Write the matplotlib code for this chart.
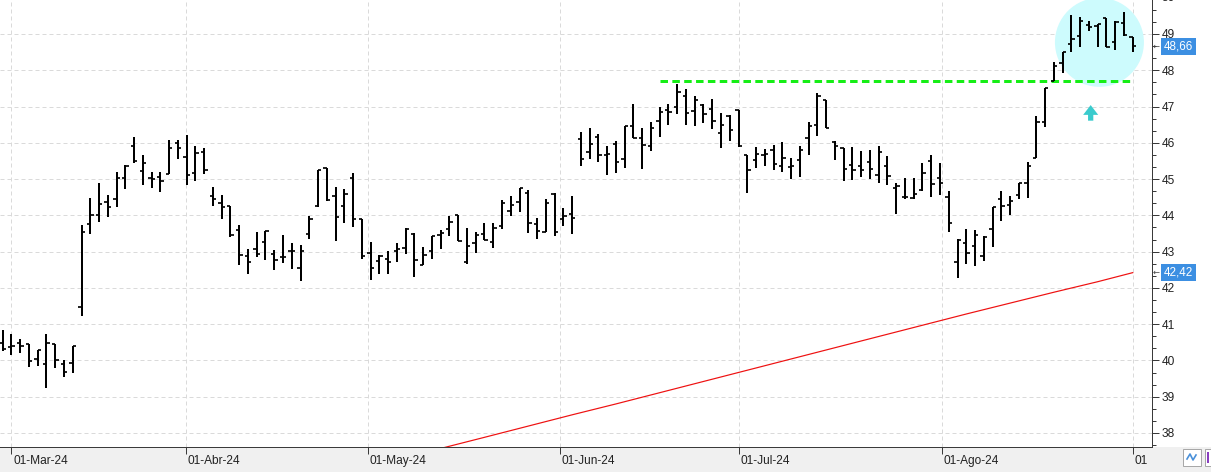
import matplotlib
matplotlib.use('Agg')
import matplotlib.pyplot as plt
import numpy as np
from matplotlib.patches import Ellipse, Rectangle, FancyArrow
from matplotlib.ticker import MultipleLocator, FixedLocator, FuncFormatter, NullFormatter

plt.rcParams['font.family'] = ['Liberation Sans', 'DejaVu Sans']

# ---------------- data (daily OHLC bars, 29-Feb-24 .. 02-Sep-24) ----------------
opens = [40.47, 40.36, 40.49, 40.44, 40.05, 39.90, 40.44, 39.89, 39.92, 41.46,
         43.75, 44.00, 44.36, 44.44, 45.04, 45.91, 45.21, 45.04, 45.06, 45.13,
         46.00, 45.62, 45.18, 45.76, 44.52, 44.35, 44.25, 43.59, 42.87, 43.07,
         43.26, 42.93, 42.85, 43.02, 42.56, 43.48, 44.25, 45.30, 44.53, 44.25,
         45.03, 43.90, 42.96, 42.75, 42.81, 43.02, 43.09, 43.48, 42.63, 43.02,
         43.47, 43.63, 44.00, 42.70, 43.23, 43.48, 43.27, 43.71, 44.12, 44.37,
         44.62, 43.76, 43.54, 44.59, 43.90, 44.04, 46.11, 45.76, 46.15, 45.67,
         45.98, 45.56, 46.47, 46.14, 45.90, 46.61, 46.91, 47.00, 47.29, 46.89,
         47.04, 46.93, 46.28, 46.75, 46.91, 45.65, 45.53, 45.65, 45.81, 45.37,
         45.32, 45.53, 46.14, 46.50, 47.19, 46.01, 45.86, 45.38, 45.36, 45.46,
         45.11, 45.36, 44.76, 44.50, 44.49, 44.70, 45.51, 45.02, 44.50, 42.70,
         43.23, 43.16, 42.89, 43.61, 44.44, 44.28, 44.55, 44.90, 45.57, 46.58,
         47.71, 48.21, 48.72, 48.95, 49.24, 49.23, 49.43, 48.77, 49.29, 48.91]
highs = [40.85, 40.72, 40.60, 40.44, 40.30, 40.72, 40.44, 40.01, 40.41, 43.73,
         44.49, 44.88, 44.56, 45.19, 45.40, 46.15, 45.65, 45.19, 45.19, 46.07,
         46.09, 46.21, 45.91, 45.87, 44.77, 44.56, 44.25, 43.73, 43.07, 43.55,
         43.58, 43.05, 43.46, 43.24, 43.17, 43.99, 45.26, 45.30, 44.78, 44.72,
         45.17, 43.90, 43.27, 42.90, 43.02, 43.24, 43.65, 43.51, 43.13, 43.44,
         43.60, 43.97, 44.01, 43.64, 43.53, 43.80, 43.78, 44.42, 44.54, 44.74,
         44.71, 43.92, 44.46, 44.61, 44.21, 44.52, 46.31, 46.42, 46.23, 45.90,
         46.06, 46.47, 47.08, 46.40, 46.57, 47.00, 47.07, 47.63, 47.49, 47.30,
         47.06, 47.21, 46.83, 46.78, 46.91, 45.67, 45.88, 45.83, 45.93, 46.03,
         45.58, 45.92, 46.57, 47.38, 47.19, 46.04, 45.86, 45.89, 45.77, 45.80,
         45.91, 45.64, 44.90, 45.02, 45.04, 45.43, 45.65, 45.43, 44.67, 43.35,
         43.61, 43.60, 43.43, 44.22, 44.66, 44.53, 44.90, 45.46, 46.74, 47.50,
         48.24, 48.51, 49.51, 49.48, 49.37, 49.27, 49.43, 49.37, 49.60, 48.93]
lows = [40.26, 40.15, 40.21, 39.82, 39.85, 39.24, 39.80, 39.55, 39.66, 41.22,
        43.49, 43.82, 43.96, 44.24, 44.73, 45.43, 44.84, 44.76, 44.65, 45.13,
        45.56, 44.85, 44.95, 45.13, 44.26, 43.89, 43.40, 42.62, 42.38, 42.84,
        42.76, 42.49, 42.68, 42.53, 42.19, 43.35, 44.22, 44.40, 43.29, 43.79,
        43.67, 42.80, 42.23, 42.37, 42.37, 42.72, 42.93, 42.30, 42.63, 42.79,
        43.07, 43.44, 43.30, 42.65, 42.97, 43.32, 43.11, 43.62, 43.98, 44.09,
        43.51, 43.35, 43.54, 43.42, 43.71, 43.49, 45.35, 45.55, 45.46, 45.11,
        45.17, 45.30, 46.13, 45.27, 45.77, 46.15, 46.49, 46.80, 46.49, 46.46,
        46.54, 46.38, 45.85, 46.06, 45.88, 44.61, 45.30, 45.35, 45.25, 45.19,
        44.99, 45.05, 45.67, 46.18, 46.41, 45.53, 44.95, 44.98, 45.06, 45.00,
        44.90, 44.83, 44.05, 44.46, 44.45, 44.67, 44.51, 44.56, 43.55, 42.28,
        42.66, 42.60, 42.74, 43.14, 43.85, 44.01, 44.45, 44.49, 45.57, 46.44,
        47.71, 47.93, 48.51, 48.65, 49.09, 48.65, 48.65, 48.56, 48.95, 48.49]
closes = [40.32, 40.41, 40.41, 39.98, 40.28, 40.47, 40.01, 39.69, 40.39, 43.53,
          44.00, 44.30, 44.22, 45.04, 45.36, 45.49, 45.43, 44.99, 44.96, 45.87,
          45.87, 45.10, 45.71, 45.24, 44.44, 44.24, 43.45, 42.90, 42.71, 42.94,
          43.58, 42.78, 42.85, 43.02, 43.02, 43.90, 45.26, 44.41, 43.95, 44.60,
          43.91, 42.87, 42.54, 42.87, 42.71, 43.07, 43.62, 42.78, 42.90, 43.44,
          43.51, 43.83, 43.30, 43.15, 43.46, 43.32, 43.64, 44.33, 44.29, 44.74,
          43.79, 43.58, 44.34, 43.54, 43.99, 43.94, 45.56, 45.98, 45.67, 45.69,
          45.46, 46.47, 46.14, 45.95, 46.41, 46.86, 46.85, 47.40, 46.83, 47.18,
          46.80, 46.61, 46.48, 46.36, 45.90, 45.24, 45.68, 45.68, 45.41, 45.58,
          45.35, 45.79, 46.46, 47.28, 46.41, 45.91, 45.28, 45.25, 45.25, 45.28,
          45.75, 45.09, 44.81, 44.51, 44.58, 45.16, 44.86, 44.88, 43.78, 43.32,
          42.95, 43.46, 43.41, 44.22, 44.26, 44.40, 44.90, 45.36, 46.58, 47.50,
          48.13, 48.51, 48.85, 49.37, 49.18, 49.27, 48.65, 49.34, 48.97, 48.66]

# moving average (red line), read at selected bars
ma_idx = [48, 55, 60, 65, 70, 75, 80, 85, 90, 95, 100, 105, 110, 115, 120, 125, 129]
ma_val = [37.45, 37.88, 38.19, 38.50, 38.80, 39.11, 39.42, 39.73, 40.04, 40.35,
          40.66, 40.97, 41.28, 41.58, 41.88, 42.17, 42.42]

# resistance line
resistance_level = 47.70
resistance_from = 75
resistance_to = 129

# month ticks (bar index of first session of each month)
month_pos = [1, 20.9, 41.7, 63.6, 84.05, 107.2, 129]
month_labels = ['01-Mar-24', '01-Abr-24', '01-May-24', '01-Jun-24',
                '01-Jul-24', '01-Ago-24', '01']

# ---------------- figure ----------------
W, H = 1211, 472
PX = 0.72  # points per pixel at 100 dpi
fig = plt.figure(figsize=(W / 100, H / 100), dpi=100)
fig.patch.set_facecolor('white')
fig.patches.append(Rectangle((0, 0), 1, 25 / H, transform=fig.transFigure,
                             facecolor='#f0f0f0', edgecolor='none', zorder=-5))

ax = fig.add_axes([0, 25 / H, 1152 / W, 447 / H])
ax.set_facecolor('white')
ax.set_zorder(1)

x = np.arange(len(opens))
ax.vlines(x, lows, highs, color='black', lw=2.0 * PX, zorder=3)
ax.hlines(opens, x - 0.38, x, color='black', lw=1.7 * PX, zorder=3)
ax.hlines(closes, x, x + 0.38, color='black', lw=1.7 * PX, zorder=3)

ax.plot(ma_idx, ma_val, color='#ee1111', lw=1.2 * PX, zorder=2.5)

# highlight circle and arrow
ax.add_patch(Ellipse((125.2, 48.77), width=10.16, height=2.454,
                     facecolor='#cdfbfd', edgecolor='none', zorder=1.6))
ax.add_patch(FancyArrow(124.2, 46.61, 0, 0.43, width=0.6, head_width=1.72,
                        head_length=0.27, length_includes_head=True,
                        facecolor='#3acbcd', edgecolor='none', zorder=2))

ax.hlines(resistance_level, resistance_from, resistance_to, color='#16ee16',
          lw=3 * PX, linestyles=(0, (2.5, 1.45)), zorder=2.8)

ax.set_xlim(-0.308, 131.2)
ax.set_ylim(37.613, 49.937)

for s in ['top', 'left']:
    ax.spines[s].set_visible(False)
for s in ['bottom', 'right']:
    ax.spines[s].set_color('#3a3a3a')
    ax.spines[s].set_linewidth(1 * PX)

# y axis on the right
ax.yaxis.tick_right()
ax.yaxis.set_major_locator(MultipleLocator(1))
ax.yaxis.set_minor_locator(MultipleLocator(1 / 3))
ax.yaxis.set_major_formatter(FuncFormatter(lambda v, p: f'{v:.0f}'))
ax.tick_params(axis='y', which='major', length=7 * PX, width=1 * PX,
               color='#3a3a3a', labelsize=8.6, labelcolor='#222222', pad=2.5 * PX)
ax.tick_params(axis='y', which='minor', length=4 * PX, width=1 * PX, color='#3a3a3a')
# partially visible "50" at the top edge (as in the source screenshot)
ax.annotate('50', xy=(1, 50), xycoords=('axes fraction', 'data'), xytext=(10, 0),
            textcoords='offset pixels', ha='left', va='center', fontsize=8.6,
            color='#222222', annotation_clip=False)

# x axis
ax.xaxis.set_major_locator(FixedLocator(month_pos))
ax.xaxis.set_major_formatter(NullFormatter())
ax.tick_params(axis='x', which='major', length=7 * PX, width=1 * PX, color='#3a3a3a')
for pos, lab in zip(month_pos, month_labels):
    ax.annotate(lab, xy=(pos, 0), xycoords=('data', 'axes fraction'),
                xytext=(2, -8), textcoords='offset pixels', ha='left', va='top',
                fontsize=8.6, color='#222222', annotation_clip=False)

ax.grid(True, which='major', color='#dadada', lw=1 * PX, linestyle=(0, (4, 3)))
ax.set_axisbelow('line')

# last-value labels on the right axis
def value_label(v):
    ax.annotate(f'{v:.2f}'.replace('.', ','), xy=(1, v),
                xycoords=('axes fraction', 'data'), xytext=(12, 0),
                textcoords='offset pixels', ha='left', va='center',
                fontsize=8.4, color='white', annotation_clip=False,
                bbox=dict(boxstyle='square,pad=0.22', facecolor='#3c8fe2',
                          edgecolor='none'))
    ax.annotate('\u2190', xy=(1, v), xycoords=('axes fraction', 'data'),
                xytext=(1, 0), textcoords='offset pixels',
                ha='left', va='center', fontsize=6, color='#444444',
                family='DejaVu Sans', annotation_clip=False)

value_label(closes[-1])
value_label(ma_val[-1])

# small toolbar icons bottom-right
def fig_rect(x0, y0, x1, y1, **kw):
    fig.patches.append(Rectangle((x0 / W, 1 - y1 / H), (x1 - x0) / W, (y1 - y0) / H,
                                 transform=fig.transFigure, **kw))

fig_rect(1183, 449, 1201, 466, facecolor='white', edgecolor='#a8a8a8', lw=1 * PX, zorder=5)
fig.lines.append(plt.Line2D([1187 / W, 1190 / W, 1193 / W, 1196 / W],
                            [1 - 459 / H, 1 - 454 / H, 1 - 460 / H, 1 - 455 / H],
                            transform=fig.transFigure, color='#4a90d9', lw=1.2, zorder=6))
fig_rect(1205, 449, 1212, 466, facecolor='white', edgecolor='#a8a8a8', lw=1 * PX, zorder=5)
fig_rect(1207, 452, 1209, 463, facecolor='#8a3fc0', edgecolor='none', zorder=6)

fig.savefig('out.png', dpi=100, facecolor=fig.get_facecolor())
